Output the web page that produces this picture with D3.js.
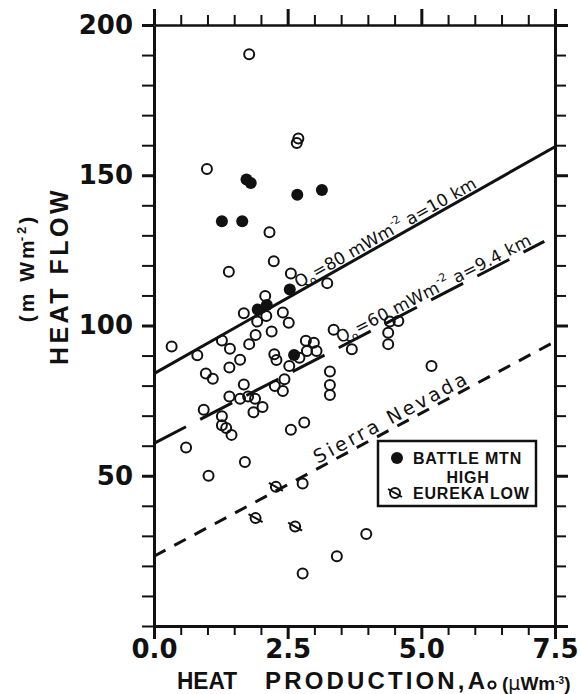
<!DOCTYPE html>
<html>
<head>
<meta charset="utf-8">
<script src="https://cdn.jsdelivr.net/npm/d3@7"></script>
<style>
  body { margin: 0; background: #fff; }
  svg { display: block; }
</style>
</head>
<body>
<div id="chart"></div>
<script>
// heat production A0 (uW/m3) and heat flow Q (mW/m2)
const openPts = [
  [1.78, 190.3], [2.70, 162.2], [2.67, 160.7], [0.99, 152.1], [2.16, 131.0],
  [2.24, 121.4], [1.40, 117.9], [2.56, 117.3], [3.24, 114.1], [2.08, 109.8],
  [1.68, 104.1], [2.41, 104.3], [2.10, 103.2], [1.93, 101.3], [2.52, 100.9],
  [3.36, 98.6], [2.20, 98.0], [1.90, 96.8], [0.33, 93.0], [1.27, 95.0],
  [1.42, 92.3], [1.78, 93.8], [0.81, 90.1], [1.61, 88.6], [1.41, 86.0],
  [0.97, 84.0], [1.10, 82.3], [2.25, 90.4], [2.29, 88.5], [2.84, 94.9],
  [2.99, 94.3], [2.86, 91.5], [3.04, 91.5], [2.72, 89.3], [2.53, 86.5],
  [3.29, 84.7], [3.29, 80.2], [3.29, 76.9], [2.44, 82.1], [2.41, 78.2],
  [2.26, 79.9], [1.68, 80.4], [1.41, 76.4], [1.61, 75.6], [1.76, 76.4],
  [1.89, 75.6], [2.03, 72.9], [1.86, 71.1], [0.93, 72.0], [1.27, 69.8],
  [2.81, 67.7], [2.56, 65.3], [1.27, 66.8], [1.35, 65.9], [1.45, 63.6],
  [0.60, 59.4], [1.70, 54.6], [1.02, 50.0], [2.78, 47.4], [3.97, 30.6],
  [3.42, 23.2], [2.78, 17.5], [4.41, 101.3], [4.57, 101.5], [4.38, 97.6],
  [4.38, 93.8], [5.19, 86.5], [3.70, 92.1]
];
const battleMtnHigh = [
  [1.73, 148.6], [1.81, 147.4], [2.68, 143.5], [3.14, 145.1], [1.27, 134.7],
  [1.65, 134.7], [2.54, 112.0], [1.94, 105.3], [2.11, 106.8], [2.62, 90.2]
];
const eurekaLow = [[2.28, 46.3], [1.90, 35.9], [2.64, 33.1]];

// reference lines, [A0, Q] end points
const q80Line = [[0, 84], [7.5, 159.5]];
const q60Line = [[0, 60.8], [7.3, 128]];
const sierraLine = [[0, 23.2], [7.45, 94.2]];

const xTicks = d3.range(0, 16).map(i => i * 0.5);
const yTicks = d3.range(0, 21).map(i => i * 10);
const xMajor = [0, 2.5, 5, 7.5];
const yMajor = [50, 100, 150, 200];

const W = 581, H = 694;
const ink = "#111";

const svg = d3.select("#chart").append("svg")
  .attr("width", W).attr("height", H);

const x = d3.scaleLinear().domain([0, 7.5]).range([154, 555]);
const y = d3.scaleLinear().domain([0, 200]).range([626, 25]);

// axes on all four sides
function styleAxis(g, width) {
  g.select(".domain").attr("stroke", ink).attr("stroke-width", width);
  g.selectAll(".tick line").attr("stroke", ink).attr("stroke-width", 2);
}

const gTop = svg.append("g").attr("transform", `translate(0,${y(200)})`)
  .call(d3.axisTop(x).tickValues(xTicks).tickSize(10).tickSizeOuter(0).tickFormat(""))
  .call(g => styleAxis(g, 2.5));
gTop.selectAll(".tick").filter(d => xMajor.includes(d)).select("line")
  .attr("y2", -16).attr("stroke-width", 3);

const gRight = svg.append("g").attr("transform", `translate(${x(7.5)},0)`)
  .call(d3.axisRight(y).tickValues(yTicks).tickSize(11).tickSizeOuter(0).tickFormat(""))
  .call(g => styleAxis(g, 3));
gRight.selectAll(".tick").filter(d => yMajor.includes(d) || d === 0).select("line")
  .attr("x2", 13).attr("stroke-width", 3);

const gBottom = svg.append("g").attr("transform", `translate(0,${y(0)})`)
  .call(d3.axisBottom(x).tickValues(xTicks).tickSize(9).tickSizeOuter(0).tickPadding(5)
    .tickFormat(d => xMajor.includes(d) ? d3.format(".1f")(d) : ""))
  .call(g => styleAxis(g, 3));
gBottom.selectAll(".tick").filter(d => xMajor.includes(d)).select("line")
  .attr("y2", 13).attr("stroke-width", 3);

const gLeft = svg.append("g").attr("transform", `translate(${x(0)},0)`)
  .call(d3.axisLeft(y).tickValues(yTicks).tickSize(12).tickSizeOuter(0).tickPadding(9)
    .tickFormat(d => yMajor.includes(d) ? d : ""))
  .call(g => styleAxis(g, 3));
gLeft.selectAll(".tick").filter(d => yMajor.includes(d)).select("line")
  .attr("stroke-width", 3);

svg.selectAll(".tick text")
  .attr("fill", ink)
  .style("font-family", "'DejaVu Sans', sans-serif")
  .style("font-weight", "bold")
  .style("font-size", "26px");

// axis titles
const titleFont = "'Liberation Sans', Arial, sans-serif";

const yTitle = svg.append("g").attr("font-family", titleFont).attr("font-weight", "bold").attr("fill", ink);
yTitle.append("text")
  .attr("transform", "translate(68,276) rotate(-90)")
  .attr("text-anchor", "middle")
  .attr("font-size", 25)
  .attr("letter-spacing", 3.5)
  .text("HEAT FLOW");
const yUnit = yTitle.append("text")
  .attr("transform", "translate(34,268) rotate(-90)")
  .attr("text-anchor", "middle")
  .attr("font-size", 21)
  .attr("letter-spacing", 3);
yUnit.append("tspan").text("(m Wm");
yUnit.append("tspan").attr("font-size", 13).attr("dy", -8).attr("dx", -4).text("-2");
yUnit.append("tspan").attr("dy", 8).text(")");

const xTitle = svg.append("g").attr("font-family", titleFont).attr("font-weight", "bold").attr("fill", ink);
xTitle.append("text").attr("x", 177).attr("y", 689).attr("font-size", 24)
  .attr("textLength", 60).attr("lengthAdjust", "spacingAndGlyphs").text("HEAT");
xTitle.append("text").attr("x", 265).attr("y", 689).attr("font-size", 24)
  .attr("textLength", 220).attr("lengthAdjust", "spacing").text("PRODUCTION,A");
xTitle.append("circle").attr("cx", 492).attr("cy", 685).attr("r", 3.5)
  .attr("fill", "none").attr("stroke", ink).attr("stroke-width", 2.2);
const xUnit = xTitle.append("text").attr("x", 502).attr("y", 690).attr("font-size", 19);
xUnit.append("tspan").text("(");
xUnit.append("tspan").attr("font-family", "'DejaVu Sans', sans-serif").attr("font-weight", "normal").text("μ");
xUnit.append("tspan").text("Wm");
xUnit.append("tspan").attr("font-size", 10).attr("dy", -6).text("-3");
xUnit.append("tspan").attr("dy", 6).text(")");

// reference lines
const line = d3.line().x(d => x(d[0])).y(d => y(d[1]));
svg.append("path").datum(q80Line).attr("d", line)
  .attr("fill", "none").attr("stroke", ink).attr("stroke-width", 3);
svg.append("path").datum(q60Line).attr("d", line)
  .attr("fill", "none").attr("stroke", ink).attr("stroke-width", 3)
  .attr("stroke-dasharray", "36,16");
svg.append("path").datum(sierraLine).attr("d", line)
  .attr("fill", "none").attr("stroke", ink).attr("stroke-width", 3)
  .attr("stroke-dasharray", "13,10");

// labels that run along the lines
function lineLabel(ln, atA, lift, size, spacing) {
  const [p0, p1] = ln;
  const ang = Math.atan2(y(p1[1]) - y(p0[1]), x(p1[0]) - x(p0[0])) * 180 / Math.PI;
  const q = p0[1] + (p1[1] - p0[1]) * (atA - p0[0]) / (p1[0] - p0[0]);
  return svg.append("text")
    .attr("transform", `translate(${x(atA)},${y(q)}) rotate(${ang})`)
    .attr("y", -lift)
    .attr("font-family", "'DejaVu Sans', sans-serif")
    .attr("font-size", size)
    .attr("letter-spacing", spacing)
    .attr("fill", ink);
}

function qLabel(t, val, depth) {
  t.append("tspan").text("Q");
  t.append("tspan").attr("font-size", 11).attr("dy", 4).text("o");
  t.append("tspan").attr("dy", -4).text(`=${val} mWm`);
  t.append("tspan").attr("font-size", 11).attr("dy", -8).text("-2");
  t.append("tspan").attr("dy", 8).text(`  a=${depth} km`);
}
qLabel(lineLabel(q80Line, 2.73, 3, 17, 0), 80, 10);
qLabel(lineLabel(q60Line, 3.5, 3, 17, 0.3), 60, 9.4);
lineLabel(sierraLine, 3.1, 4, 19, 3).text("Sierra Nevada");

// points
svg.append("g").selectAll("circle").data(openPts).join("circle")
  .attr("cx", d => x(d[0])).attr("cy", d => y(d[1])).attr("r", 5)
  .attr("fill", "none").attr("stroke", ink).attr("stroke-width", 2);

svg.append("g").selectAll("circle").data(battleMtnHigh).join("circle")
  .attr("cx", d => x(d[0])).attr("cy", d => y(d[1])).attr("r", 6)
  .attr("fill", ink);

function eurekaMark(g) {
  g.append("circle").attr("r", 5).attr("fill", "none").attr("stroke", ink).attr("stroke-width", 2);
  g.append("line").attr("x1", -7).attr("y1", -4).attr("x2", 7).attr("y2", 4)
    .attr("stroke", ink).attr("stroke-width", 2);
}
svg.append("g").selectAll("g").data(eurekaLow).join("g")
  .attr("transform", d => `translate(${x(d[0])},${y(d[1])})`)
  .each(function() { eurekaMark(d3.select(this)); });

// legend
const legend = svg.append("g").attr("font-family", titleFont).attr("font-weight", "bold")
  .attr("font-size", 16).attr("letter-spacing", 0.8).attr("fill", ink);
legend.append("rect").attr("x", 378).attr("y", 441).attr("width", 158).attr("height", 65)
  .attr("fill", "#fff").attr("stroke", ink).attr("stroke-width", 2.5);
legend.append("circle").attr("cx", 397).attr("cy", 458).attr("r", 6).attr("fill", ink);
legend.append("text").attr("x", 413).attr("y", 464).text("BATTLE MTN");
legend.append("text").attr("x", 468).attr("y", 483).attr("text-anchor", "middle").text("HIGH");
legend.append("g").attr("transform", "translate(395,493)").call(eurekaMark);
legend.append("text").attr("x", 413).attr("y", 499).text("EUREKA LOW");
</script>
</body>
</html>
